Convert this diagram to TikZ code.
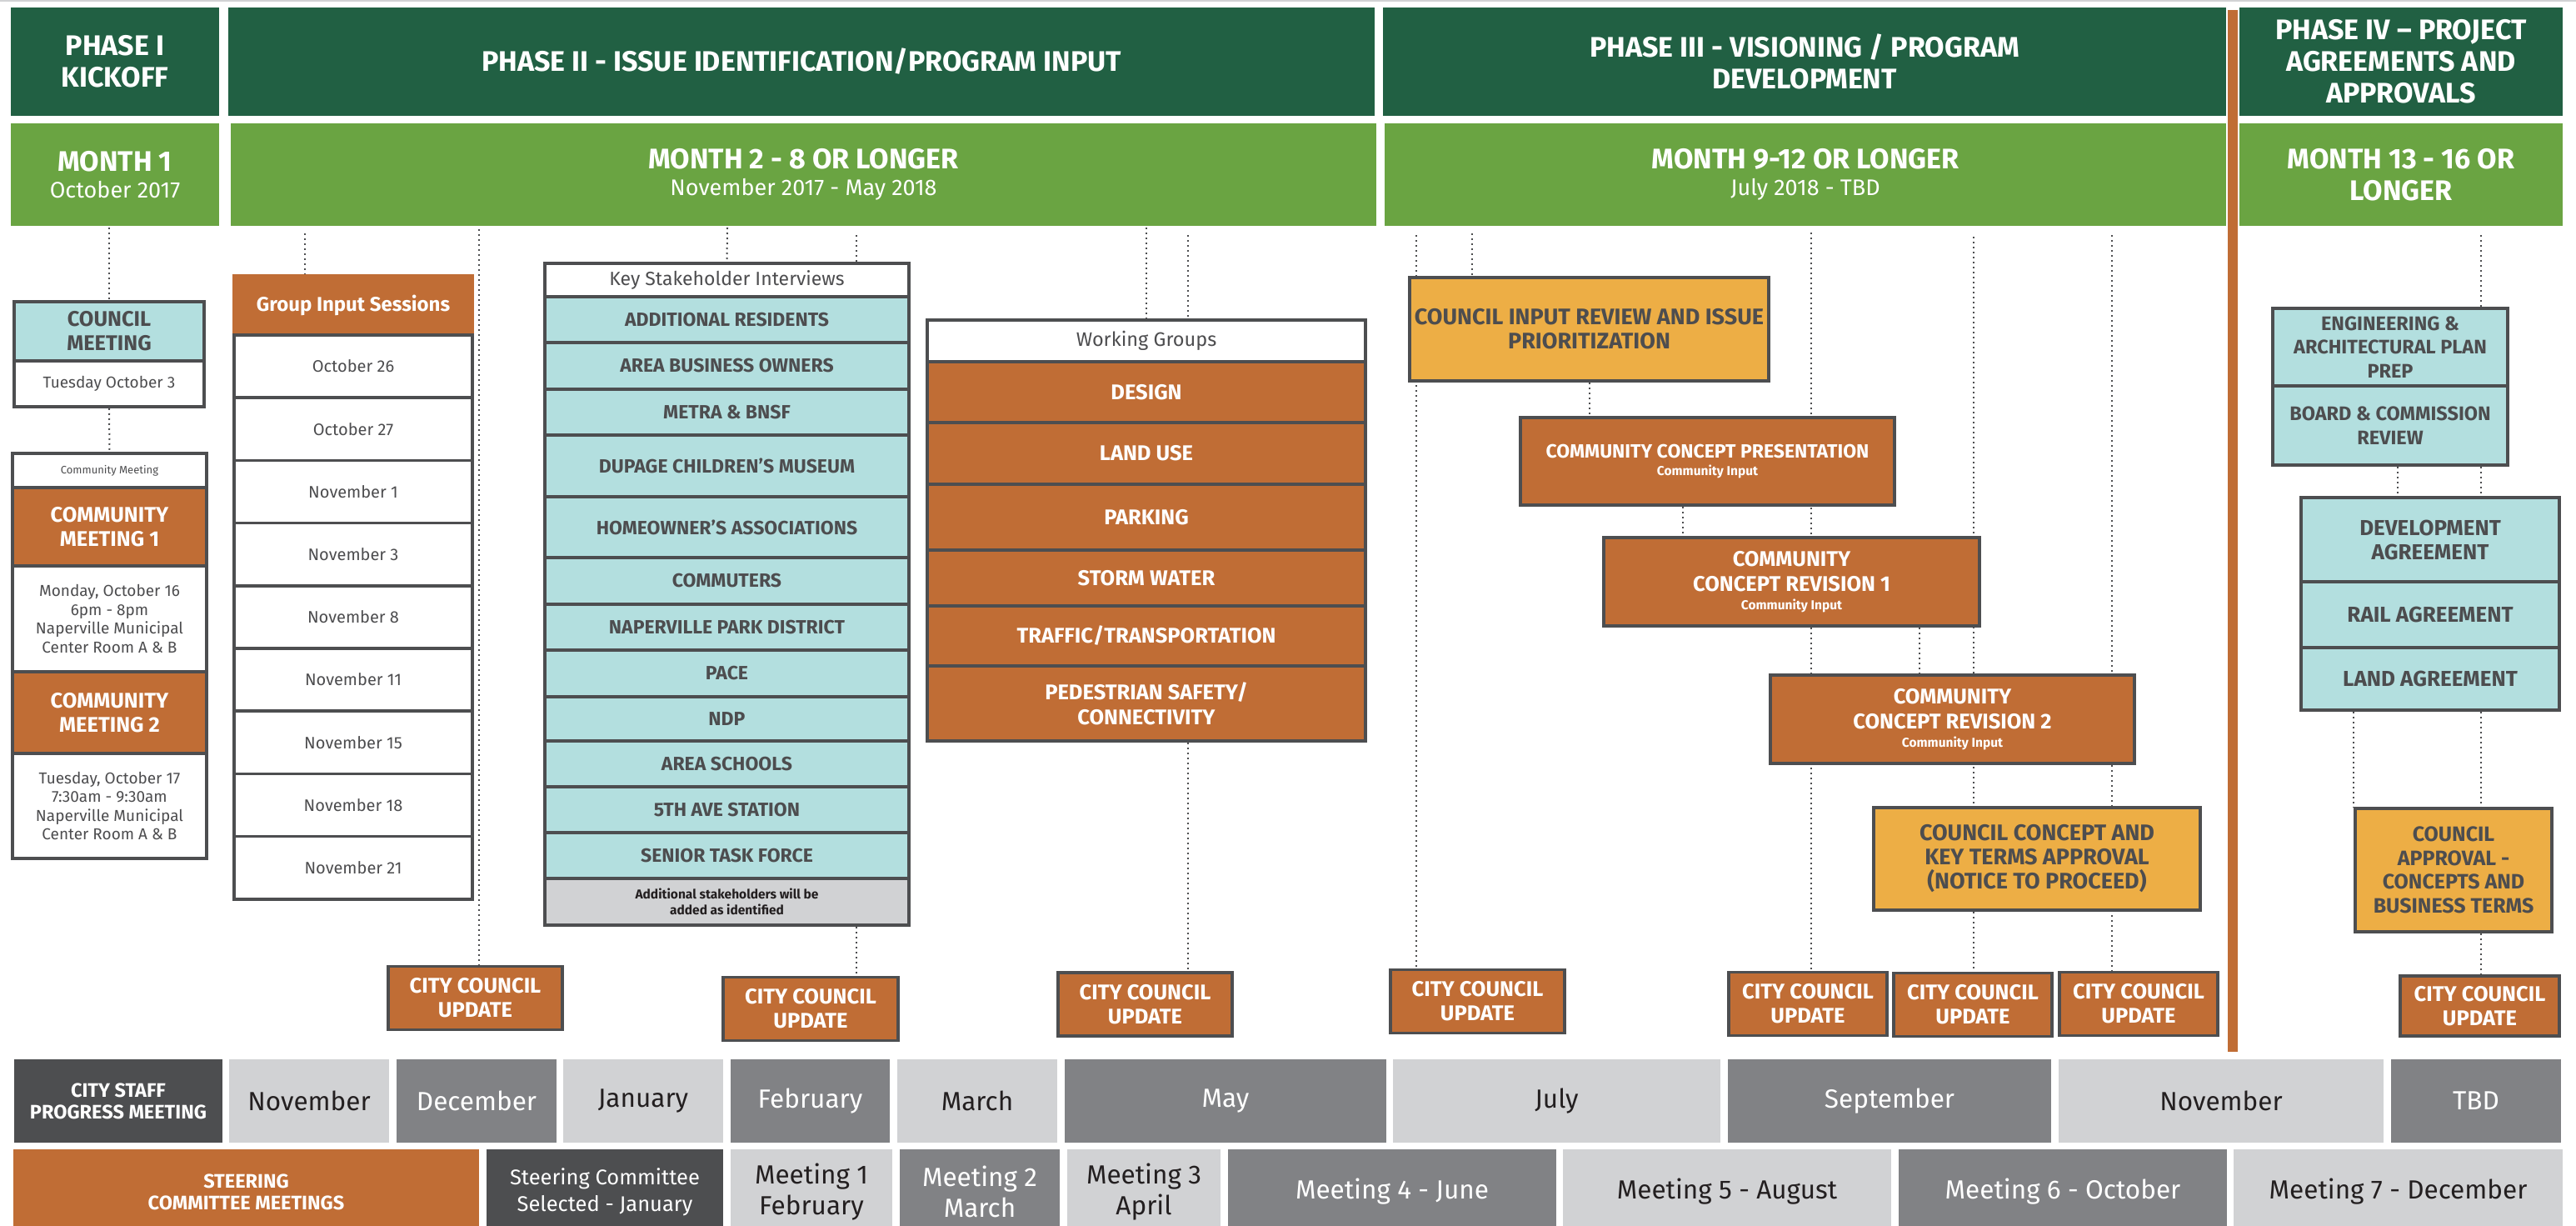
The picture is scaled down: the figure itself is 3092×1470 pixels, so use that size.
\documentclass[tikz,border=0pt]{standalone}
\usepackage{fontspec}
\setmainfont{Fira Sans}
\usepackage{tikz}
\usetikzlibrary{backgrounds}

\definecolor{dkgreen}{HTML}{216043}
\definecolor{ltgreen}{HTML}{6AA442}
\definecolor{rust}{HTML}{C06D35}
\definecolor{gold}{HTML}{EDAE45}
\definecolor{aqua}{HTML}{B3DFDF}
\definecolor{edge}{HTML}{4D4E50}
\definecolor{txtgray}{HTML}{4D4D4F}
\definecolor{midcell}{HTML}{818285}
\definecolor{ltcell}{HTML}{D1D2D4}
\definecolor{inkcell}{HTML}{231F20}

\newcommand{\fs}[2]{\fontsize{#1}{#2}\selectfont}

\tikzset{
  every node/.style={inner sep=0pt, align=center},
  band/.style={text=white, font=\bfseries\fs{34}{38}},
  phasebox/.style={band, fill=dkgreen, minimum height=130pt},
  monthbox/.style={band, fill=ltgreen, minimum height=123pt},
  cell/.style={draw=edge, line width=3.5pt},
  aquarow/.style={cell, fill=aqua, text=txtgray, font=\bfseries\fs{23}{28.6}},
  rustrow/.style={cell, fill=rust, text=white, font=\bfseries\fs{25.5}{30}},
  goldbox/.style={cell, fill=gold, text=txtgray, font=\bfseries\fs{27}{29}},
  plain/.style={cell, fill=white, text=txtgray, font=\fs{20}{23}},
  notebox/.style={cell, fill=ltcell, text=inkcell, font=\bfseries\fs{15.5}{19}},
  update/.style={cell, fill=rust, text=white, font=\bfseries\fs{25.5}{29}, minimum height=76pt},
  dotline/.style={draw=edge, line width=2pt, dash pattern=on 2pt off 4pt},
  mdark/.style={fill=edge, text=white},
  mmid/.style={fill=midcell, text=white, font=\fs{31.5}{37}},
  mlight/.style={fill=ltcell, text=inkcell, font=\fs{31.5}{37}},
}

\begin{document}
\begin{tikzpicture}[x=1pt, y=-1pt]
        \useasboundingbox (0,0) rectangle (3092,1470);
        \draw[ltcell, line width=2pt] (0,1) -- (3092,1);

        %phase headers
        \node[phasebox, minimum width=250pt] (p1) at (138,74) {PHASE I\\KICKOFF};
        \node[phasebox, minimum width=1376pt] (p2) at (962,74) {PHASE II - ISSUE IDENTIFICATION/PROGRAM INPUT};
        \node[phasebox, minimum width=1012pt] (p3) at (2166,74) {PHASE III - VISIONING / PROGRAM\\DEVELOPMENT};
        \node[phasebox, minimum width=388pt] (p4) at (2882,74) {PHASE IV – PROJECT\\AGREEMENTS AND\\APPROVALS};

        %month bands
        \node[monthbox, minimum width=250pt] (m1) at (138,209.5) {MONTH 1\\[-6pt]{\mdseries\fs{27}{30}October 2017}};
        \node[monthbox, minimum width=1375pt] (m2) at (964.5,209.5) {MONTH 2 - 8 OR LONGER\\[-6pt]{\mdseries\fs{27}{30}November 2017 - May 2018}};
        \node[monthbox, minimum width=1010pt] (m3) at (2167,209.5) {MONTH 9-12 OR LONGER\\[-6pt]{\mdseries\fs{27}{30}July 2018 - TBD}};
        \node[monthbox, minimum width=388pt] (m4) at (2882,209.5) {MONTH 13 - 16 OR\\LONGER};
        \fill[rust] (2674,12) rectangle (2686,1262);

        %kickoff column
        \node[aquarow, font=\bfseries\fs{25.5}{29}, minimum width=228pt, minimum height=71pt] (cm) at (131,397.5) {COUNCIL\\MEETING};
        \node[plain, font=\fs{19}{22}, minimum width=228pt, minimum height=55pt] (cmd) at (131,460.5) {Tuesday October 3};
        \node[plain, font=\fs{13}{15}, minimum width=233pt, minimum height=41pt] (cml) at (131.5,564.5) {Community Meeting};
        \node[rustrow, font=\bfseries\fs{25.5}{29}, minimum width=233pt, minimum height=94pt] (cm1) at (131.5,632) {COMMUNITY\\MEETING 1};
        \node[plain, font=\fs{19}{22.5}, minimum width=233pt, minimum height=127pt] (cm1i) at (131.5,742.5) {Monday, October 16\\6pm - 8pm\\Naperville Municipal\\Center Room A \& B};
        \node[rustrow, font=\bfseries\fs{25.5}{29}, minimum width=233pt, minimum height=98pt] (cm2) at (131.5,855) {COMMUNITY\\MEETING 2};
        \node[plain, font=\fs{19}{22.5}, minimum width=233pt, minimum height=126pt] (cm2i) at (131.5,967) {Tuesday, October 17\\7:30am - 9:30am\\Naperville Municipal\\Center Room A \& B};

        %group input sessions
        \node[rustrow, draw=rust, font=\bfseries\fs{24}{28}, minimum width=286pt, minimum height=71pt] (gis) at (424,366.5) {Group Input Sessions};
        \node[plain, minimum width=286pt, minimum height=75.2pt] (g1) at (424,439.6) {October 26};
        \node[plain, minimum width=286pt, minimum height=75.2pt] (g2) at (424,514.8) {October 27};
        \node[plain, minimum width=286pt, minimum height=75.2pt] (g3) at (424,590) {November 1};
        \node[plain, minimum width=286pt, minimum height=75.2pt] (g4) at (424,665.2) {November 3};
        \node[plain, minimum width=286pt, minimum height=75.2pt] (g5) at (424,740.4) {November 8};
        \node[plain, minimum width=286pt, minimum height=75.2pt] (g6) at (424,815.6) {November 11};
        \node[plain, minimum width=286pt, minimum height=75.2pt] (g7) at (424,890.8) {November 15};
        \node[plain, minimum width=286pt, minimum height=75.2pt] (g8) at (424,966) {November 18};
        \node[plain, minimum width=286pt, minimum height=75.2pt] (g9) at (424,1041.2) {November 21};

        %key stakeholders
        \node[plain, font=\fs{23}{26}, minimum width=437pt, minimum height=40pt] (ksi) at (872.5,336) {Key Stakeholder Interviews};
        \node[aquarow, minimum width=437pt, minimum height=55pt] (k1) at (872.5,383.5) {ADDITIONAL RESIDENTS};
        \node[aquarow, minimum width=437pt, minimum height=56pt] (k2) at (872.5,439) {AREA BUSINESS OWNERS};
        \node[aquarow, minimum width=437pt, minimum height=55pt] (k3) at (872.5,494.5) {METRA \& BNSF};
        \node[aquarow, minimum width=437pt, minimum height=74pt] (k4) at (872.5,559) {DUPAGE CHILDREN’S MUSEUM};
        \node[aquarow, minimum width=437pt, minimum height=73pt] (k5) at (872.5,632.5) {HOMEOWNER’S ASSOCIATIONS};
        \node[aquarow, minimum width=437pt, minimum height=56pt] (k6) at (872.5,697) {COMMUTERS};
        \node[aquarow, minimum width=437pt, minimum height=55pt] (k7) at (872.5,752.5) {NAPERVILLE PARK DISTRICT};
        \node[aquarow, minimum width=437pt, minimum height=56pt] (k8) at (872.5,808) {PACE};
        \node[aquarow, minimum width=437pt, minimum height=53pt] (k9) at (872.5,862.5) {NDP};
        \node[aquarow, minimum width=437pt, minimum height=55pt] (k10) at (872.5,916.5) {AREA SCHOOLS};
        \node[aquarow, minimum width=437pt, minimum height=55pt] (k11) at (872.5,971.5) {5TH AVE STATION};
        \node[aquarow, minimum width=437pt, minimum height=55pt] (k12) at (872.5,1026.5) {SENIOR TASK FORCE};
        \node[notebox, minimum width=437pt, minimum height=56pt] (note) at (872.5,1082) {Additional stakeholders will be\\added as identified};

        %working groups
        \node[plain, font=\fs{23.5}{26}, minimum width=526pt, minimum height=50pt] (wg) at (1376,409) {Working Groups};
        \node[rustrow, minimum width=526pt, minimum height=73pt] (w1) at (1376,470.5) {DESIGN};
        \node[rustrow, minimum width=526pt, minimum height=74pt] (w2) at (1376,544) {LAND USE};
        \node[rustrow, minimum width=526pt, minimum height=79pt] (w3) at (1376,620.5) {PARKING};
        \node[rustrow, minimum width=526pt, minimum height=67pt] (w4) at (1376,693.5) {STORM WATER};
        \node[rustrow, minimum width=526pt, minimum height=72pt] (w5) at (1376,763) {TRAFFIC/TRANSPORTATION};
        \node[rustrow, minimum width=526pt, minimum height=90pt] (w6) at (1376,844) {PEDESTRIAN SAFETY/\\CONNECTIVITY};

        %visioning steps
        \node[goldbox, minimum width=431pt, minimum height=124pt] (cir) at (1907.5,395) {COUNCIL INPUT REVIEW AND ISSUE\\PRIORITIZATION};
        \node[rustrow, font=\bfseries\fs{23}{28}, minimum width=449pt, minimum height=105pt] (ccp) at (2049.5,553.5) {COMMUNITY CONCEPT PRESENTATION\\[-7pt]{\fs{15.5}{18}Community Input}};
        \node[rustrow, minimum width=451pt, minimum height=106pt] (ccr1) at (2150.5,698) {COMMUNITY\\CONCEPT REVISION 1\\[-8pt]{\fs{15.5}{18}Community Input}};
        \node[rustrow, minimum width=437pt, minimum height=106pt] (ccr2) at (2343.5,863) {COMMUNITY\\CONCEPT REVISION 2\\[-8pt]{\fs{15.5}{18}Community Input}};
        \node[goldbox, minimum width=392pt, minimum height=123pt] (cck) at (2445,1030.5) {COUNCIL CONCEPT AND\\KEY TERMS APPROVAL\\(NOTICE TO PROCEED)};

        %agreements
        \node[aquarow, font=\bfseries\fs{23.5}{28.6}, minimum width=282pt, minimum height=93pt] (eng) at (2869,416.5) {ENGINEERING \&\\ARCHITECTURAL PLAN\\PREP};
        \node[aquarow, font=\bfseries\fs{23.5}{28.6}, minimum width=282pt, minimum height=95pt] (board) at (2869,510.5) {BOARD \& COMMISSION\\REVIEW};
        \node[aquarow, font=\bfseries\fs{26}{29}, minimum width=310pt, minimum height=101pt] (dev) at (2917,647.5) {DEVELOPMENT\\AGREEMENT};
        \node[aquarow, font=\bfseries\fs{26}{29}, minimum width=310pt, minimum height=79pt] (rail) at (2917,737.5) {RAIL AGREEMENT};
        \node[aquarow, font=\bfseries\fs{26}{29}, minimum width=310pt, minimum height=75pt] (land) at (2917,814.5) {LAND AGREEMENT};
        \node[goldbox, font=\bfseries\fs{25}{28.6}, minimum width=236pt, minimum height=148pt] (cap) at (2945,1044) {COUNCIL\\APPROVAL -\\CONCEPTS AND\\BUSINESS TERMS};

        %city council updates
        \node[update, minimum width=209pt] (u1) at (570.5,1197.5) {CITY COUNCIL\\UPDATE};
        \node[update, minimum width=210pt] (u2) at (973,1210.5) {CITY COUNCIL\\UPDATE};
        \node[update, minimum width=209pt] (u3) at (1374.5,1205) {CITY COUNCIL\\UPDATE};
        \node[update, minimum width=209pt] (u4) at (1773.5,1201.5) {CITY COUNCIL\\UPDATE};
        \node[update, minimum width=190pt] (u5) at (2170,1204.5) {CITY COUNCIL\\UPDATE};
        \node[update, minimum width=190pt] (u6) at (2368,1205.5) {CITY COUNCIL\\UPDATE};
        \node[update, minimum width=190pt] (u7) at (2567,1204.5) {CITY COUNCIL\\UPDATE};
        \node[update, minimum width=191pt, minimum height=72pt] (u8) at (2976.5,1207) {CITY COUNCIL\\UPDATE};

        %staff progress row
        \node[mdark, font=\bfseries\fs{23.5}{26}, minimum width=250pt, minimum height=100pt] (staff) at (142,1321) {CITY STAFF\\PROGRESS MEETING};
        \node[mlight, minimum width=192pt, minimum height=100pt] (s1) at (371,1321) {November};
        \node[mmid, minimum width=192pt, minimum height=100pt] (s2) at (572,1321) {December};
        \node[mlight, minimum width=192pt, minimum height=100pt] (s3) at (772,1321) {January};
        \node[mmid, minimum width=191pt, minimum height=100pt] (s4) at (972.5,1321) {February};
        \node[mlight, minimum width=192pt, minimum height=100pt] (s5) at (1173,1321) {March};
        \node[mmid, minimum width=386pt, minimum height=100pt] (s6) at (1471,1321) {May};
        \node[mlight, minimum width=393pt, minimum height=100pt] (s7) at (1868.5,1321) {July};
        \node[mmid, minimum width=388pt, minimum height=100pt] (s8) at (2268,1321) {September};
        \node[mlight, minimum width=390pt, minimum height=100pt] (s9) at (2666,1321) {November};
        \node[mmid, minimum width=204pt, minimum height=100pt] (s10) at (2972,1321) {TBD};

        %steering committee row
        \node[fill=rust, text=white, font=\bfseries\fs{23.5}{26}, minimum width=559pt, minimum height=102pt] (steer) at (295.5,1430) {STEERING\\COMMITTEE MEETINGS};
        \node[mdark, font=\fs{25.5}{32}, minimum width=284pt, minimum height=102pt] (t0) at (726,1430) {Steering Committee\\Selected - January};
        \node[mlight, minimum width=194pt, minimum height=102pt] (t1) at (974,1430) {Meeting 1\\February};
        \node[mmid, minimum width=192pt, minimum height=102pt] (t2) at (1176,1430) {Meeting 2\\March};
        \node[mlight, minimum width=184pt, minimum height=102pt] (t3) at (1373,1430) {Meeting 3\\April};
        \node[mmid, minimum width=394pt, minimum height=102pt] (t4) at (1671,1430) {Meeting 4 - June};
        \node[mlight, minimum width=394pt, minimum height=102pt] (t5) at (2073,1430) {Meeting 5 - August};
        \node[mmid, minimum width=394pt, minimum height=102pt] (t6) at (2476,1430) {Meeting 6 - October};
        \node[mlight, minimum width=395pt, minimum height=102pt] (t7) at (2878.5,1430) {Meeting 7 - December};

        %dotted ties
        \coordinate (d1) at (131,273);
        \coordinate (d2) at (366,280);
        \coordinate (d3) at (575,275);
        \coordinate (d4) at (873,273);
        \coordinate (d5) at (1028,282);
        \coordinate (d6) at (1376,273);
        \coordinate (d7) at (1426,282);
        \coordinate (d8) at (1700,282);
        \coordinate (d9) at (1767,280);
        \coordinate (d10) at (2020,600);
        \coordinate (d11) at (2174,279);
        \coordinate (d12) at (2304,760);
        \coordinate (d13) at (2369,284);
        \coordinate (d14) at (2535,282);
        \coordinate (d15) at (2978,282);
        \coordinate (d16) at (2878,570);
        \coordinate (d17) at (2825,860);
        \begin{scope}[on background layer]
        \path[dotline] (d1) -- (cm.north);
        \path[dotline] (cmd.south) -- (cml.north);
        \path[dotline] (d2) -- (d2 |- gis.north);
        \path[dotline] (d3) -- (d3 |- u1.north);
        \path[dotline] (d4) -- (ksi.north);
        \path[dotline] (d5) -- (d5 |- ksi.north);
        \path[dotline] (d5 |- note.south) -- (d5 |- u2.north);
        \path[dotline] (d6) -- (wg.north);
        \path[dotline] (d7) -- (d7 |- wg.north);
        \path[dotline] (d7 |- w6.south) -- (d7 |- u3.north);
        \path[dotline] (d8) -- (d8 |- u4.north);
        \path[dotline] (d9) -- (d9 |- cir.north);
        \path[dotline] (cir.south) -- (cir.south |- ccp.north);
        \path[dotline] (d10 |- ccp.south) -- (d10 |- ccr1.north);
        \path[dotline] (d11) -- (d11 |- u5.north);
        \path[dotline] (d12 |- ccr1.south) -- (d12 |- ccr2.north);
        \path[dotline] (d13) -- (d13 |- u6.north);
        \path[dotline] (d14) -- (d14 |- u7.north);
        \path[dotline] (d15) -- (d15 |- eng.north);
        \path[dotline] (d15 |- board.south) -- (d15 |- dev.north);
        \path[dotline] (d16 |- board.south) -- (d16 |- dev.north);
        \path[dotline] (d15 |- land.south) -- (d15 |- cap.north);
        \path[dotline] (d17 |- land.south) -- (d17 |- cap.north);
        \path[dotline] (d15 |- cap.south) -- (d15 |- u8.north);
        \end{scope}

\end{tikzpicture}
\end{document}
